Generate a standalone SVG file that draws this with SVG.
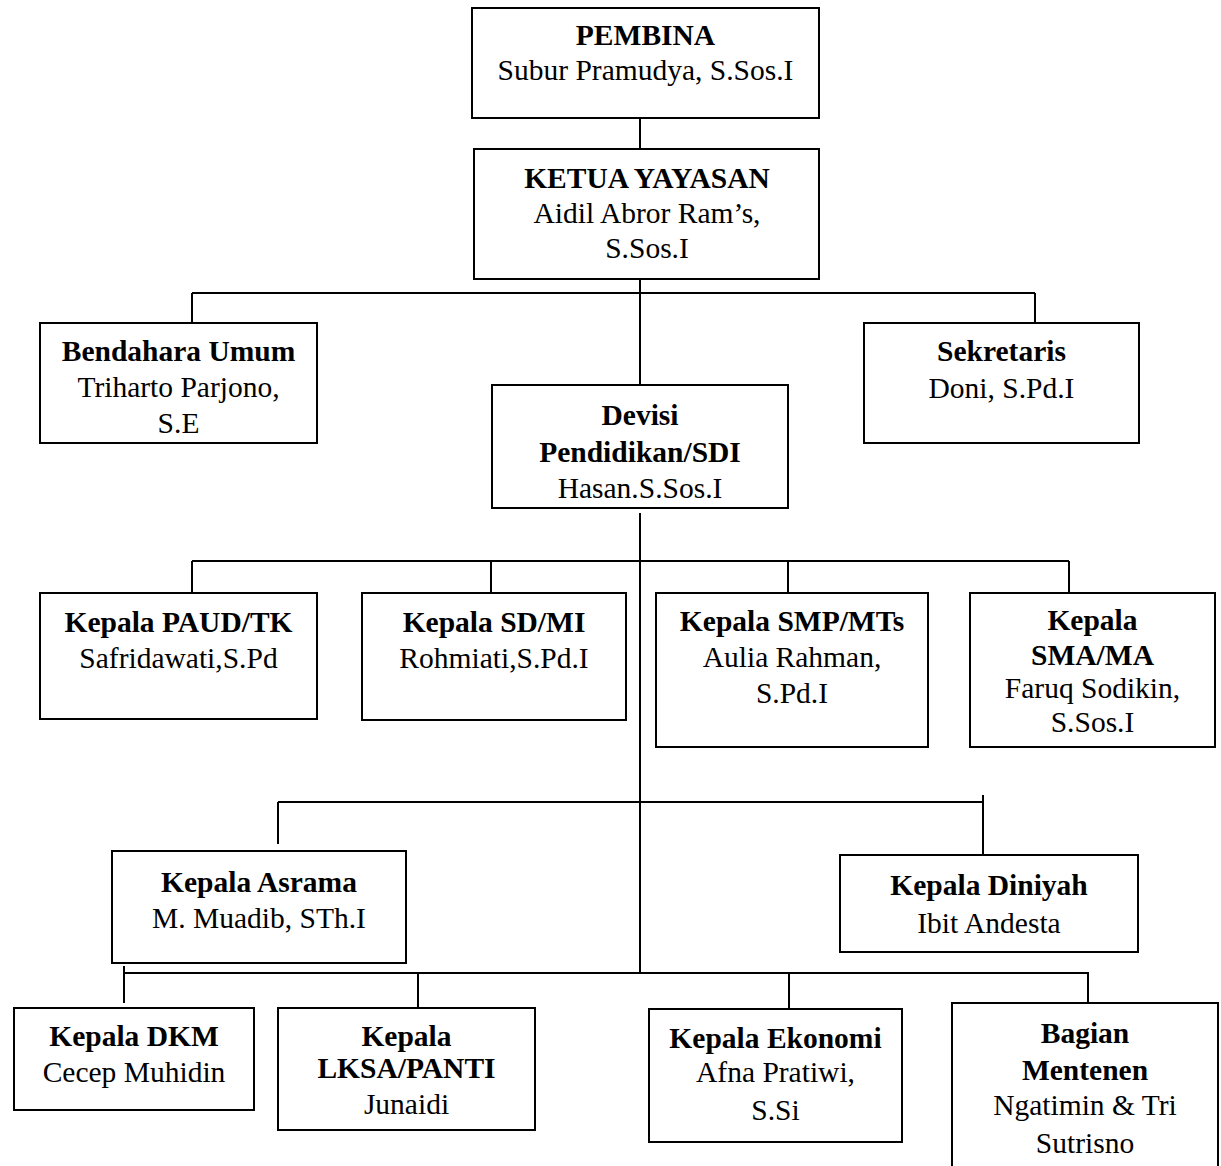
<svg xmlns="http://www.w3.org/2000/svg" width="1221" height="1166" viewBox="0 0 1221 1166">
<style>
.box{fill:#fff;stroke:#000;stroke-width:2}
.ln{stroke:#000;stroke-width:2;fill:none}
text{font-family:"Liberation Serif","Times New Roman",serif;font-size:29.5px;fill:#000;text-anchor:middle}
.b{font-weight:bold}
</style>
<rect width="1221" height="1166" fill="#fff"/>
<g id="connectors">
<path class="ln" d="M640 118V149 M640 279V385 M192 293H1035 M192 293V323 M1035 293V323"/>
<path class="ln" d="M640 513V972 M192 561H1069 M192 561V593 M491 561V593 M788 561V593 M1069 561V593"/>
<path class="ln" d="M278 802H983 M278 802V844 M983 795V854"/>
<path class="ln" d="M124 973H1089 M124 966V1003 M418 973V1008 M789 973V1008 M1088 973V1003"/>
</g>
<g id="pembina"><rect class="box" x="472" y="8" width="347" height="110"/>
<text x="645.5" y="45" class="b">PEMBINA</text><text x="645.5" y="80">Subur Pramudya, S.Sos.I</text></g>
<g id="ketua"><rect class="box" x="474" y="149" width="345" height="130"/>
<text x="647" y="188" class="b">KETUA YAYASAN</text><text x="647" y="223">Aidil Abror Ram’s,</text><text x="647" y="258">S.Sos.I</text></g>
<g id="bendahara"><rect class="box" x="40" y="323" width="277" height="120"/>
<text x="178.5" y="361" class="b">Bendahara Umum</text><text x="178.5" y="397">Triharto Parjono,</text><text x="178.5" y="433">S.E</text></g>
<g id="sekretaris"><rect class="box" x="864" y="323" width="275" height="120"/>
<text x="1001.5" y="361" class="b">Sekretaris</text><text x="1001.5" y="398">Doni, S.Pd.I</text></g>
<g id="devisi"><rect class="box" x="492" y="385" width="296" height="123"/>
<text x="640" y="425" class="b">Devisi</text><text x="640" y="462" class="b">Pendidikan/SDI</text><text x="640" y="498">Hasan.S.Sos.I</text></g>
<g id="paud"><rect class="box" x="40" y="593" width="277" height="126"/>
<text x="178.5" y="632" class="b">Kepala PAUD/TK</text><text x="178.5" y="668">Safridawati,S.Pd</text></g>
<g id="sdmi"><rect class="box" x="362" y="593" width="264" height="127"/>
<text x="494" y="632" class="b">Kepala SD/MI</text><text x="494" y="668">Rohmiati,S.Pd.I</text></g>
<g id="smp"><rect class="box" x="656" y="593" width="272" height="154"/>
<text x="792" y="631" class="b">Kepala SMP/MTs</text><text x="792" y="667">Aulia Rahman,</text><text x="792" y="703">S.Pd.I</text></g>
<g id="sma"><rect class="box" x="970" y="593" width="245" height="154"/>
<text x="1092.5" y="630" class="b">Kepala</text><text x="1092.5" y="665" class="b">SMA/MA</text><text x="1092.5" y="698">Faruq Sodikin,</text><text x="1092.5" y="732">S.Sos.I</text></g>
<g id="asrama"><rect class="box" x="112" y="851" width="294" height="112"/>
<text x="259" y="892" class="b">Kepala Asrama</text><text x="259" y="928">M. Muadib, STh.I</text></g>
<g id="diniyah"><rect class="box" x="840" y="855" width="298" height="97"/>
<text x="989" y="895" class="b">Kepala Diniyah</text><text x="989" y="933">Ibit Andesta</text></g>
<g id="dkm"><rect class="box" x="14" y="1008" width="240" height="102"/>
<text x="134" y="1046" class="b">Kepala DKM</text><text x="134" y="1082">Cecep Muhidin</text></g>
<g id="lksa"><rect class="box" x="278" y="1008" width="257" height="122"/>
<text x="406.5" y="1046" class="b">Kepala</text><text x="406.5" y="1078" class="b">LKSA/PANTI</text><text x="406.5" y="1114">Junaidi</text></g>
<g id="ekonomi"><rect class="box" x="649" y="1009" width="253" height="133"/>
<text x="775.5" y="1048" class="b">Kepala Ekonomi</text><text x="775.5" y="1082">Afna Pratiwi,</text><text x="775.5" y="1120">S.Si</text></g>
<g id="mentenen"><rect class="box" x="952" y="1003" width="266" height="180"/>
<text x="1085" y="1043" class="b">Bagian</text><text x="1085" y="1080" class="b">Mentenen</text><text x="1085" y="1115">Ngatimin &amp; Tri</text><text x="1085" y="1153">Sutrisno</text></g>
</svg>
